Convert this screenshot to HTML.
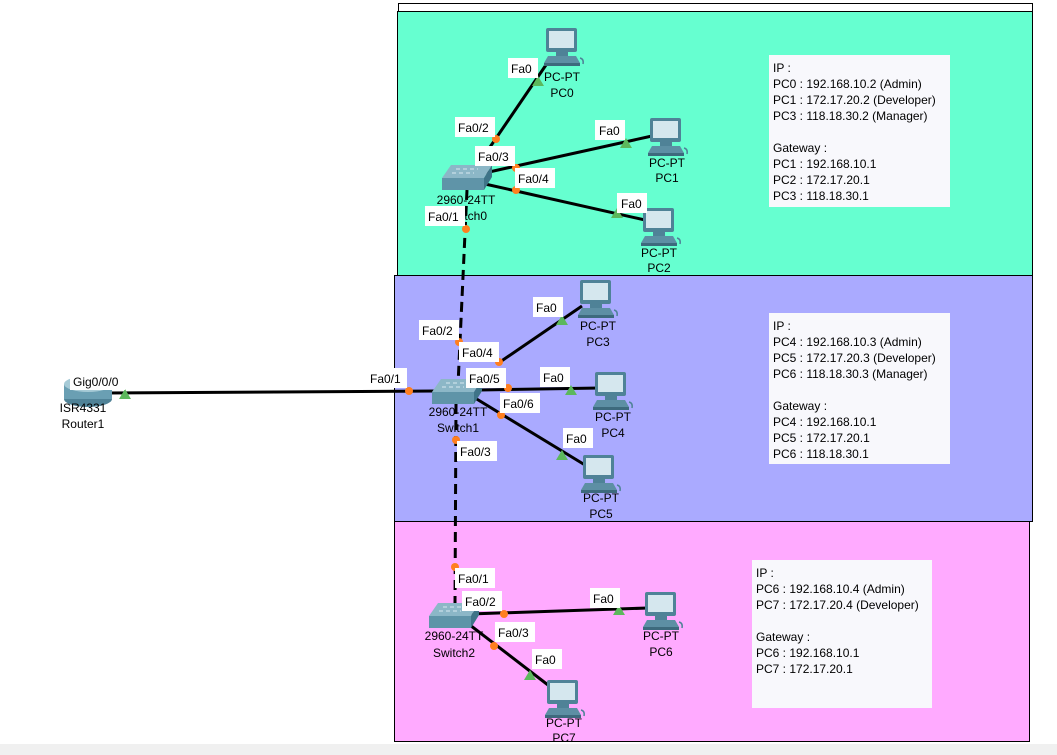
<!DOCTYPE html>
<html><head><meta charset="utf-8"><style>
html,body{margin:0;padding:0;background:#fff;}
svg{display:block;font-family:"Liberation Sans",Arial,sans-serif;}
.t{font-size:12px;fill:#000;}
.c{text-anchor:middle;}
</style></head><body>
<svg width="1057" height="755" viewBox="0 0 1057 755">
<defs>
<g id="pc">
<rect x="0" y="0" width="31" height="24" rx="2" fill="#4f8297"/>
<rect x="3" y="3" width="25" height="17" fill="#d5e7ee"/>
<rect x="10" y="24" width="12" height="4" fill="#4f8297"/>
<polygon points="2,28 30,28 34,35 -2,35" fill="#5d8fa4"/>
<rect x="-2" y="35" width="36" height="3" fill="#3d6a7d"/>
<path d="M34,30 q4,1 3,6" stroke="#4f8297" fill="none" stroke-width="1.5"/>
</g>
<g id="sw">
<polygon points="9,0 50,0 42,13 0,13" fill="#8cb7c7"/>
<rect x="0" y="13" width="42" height="12" fill="#5f94a8"/>
<polygon points="42,13 50,0 50,12 42,25" fill="#3f7488"/>
<path d="M14,4 h22 M10,8 h22" stroke="#d8eaf0" stroke-width="1" stroke-dasharray="4,3"/>
</g>
</defs>
<rect x="0" y="0" width="1057" height="755" fill="#fff"/>
<rect x="0" y="744" width="1057" height="11" fill="#f0f0f0"/>
<rect x="398.5" y="3.5" width="634" height="10" fill="#fff" stroke="#000"/>
<rect x="397.5" y="11.5" width="635" height="264" fill="#66ffd0" stroke="#000"/>
<rect x="394.5" y="275.5" width="638" height="246" fill="#aaaaff" stroke="#000"/>
<rect x="394.5" y="521.5" width="635" height="220" fill="#ffaaff" stroke="#000"/>

<rect x="769" y="55" width="181" height="152" fill="#f8f8fc"/>
<rect x="769" y="313" width="181" height="151" fill="#f8f8fc"/>
<rect x="752" y="560" width="180" height="148" fill="#f8f8fc"/>
<g class="t">
<text x="773" y="72">IP :</text>
<text x="773" y="88">PC0 : 192.168.10.2 (Admin)</text>
<text x="773" y="104">PC1 : 172.17.20.2 (Developer)</text>
<text x="773" y="120">PC3 : 118.18.30.2 (Manager)</text>
<text x="773" y="152">Gateway :</text>
<text x="773" y="168">PC1 : 192.168.10.1</text>
<text x="773" y="184">PC2 : 172.17.20.1</text>
<text x="773" y="200">PC3 : 118.18.30.1</text>
<text x="773" y="330">IP :</text>
<text x="773" y="346">PC4 : 192.168.10.3 (Admin)</text>
<text x="773" y="362">PC5 : 172.17.20.3 (Developer)</text>
<text x="773" y="378">PC6 : 118.18.30.3 (Manager)</text>
<text x="773" y="410">Gateway :</text>
<text x="773" y="426">PC4 : 192.168.10.1</text>
<text x="773" y="442">PC5 : 172.17.20.1</text>
<text x="773" y="458">PC6 : 118.18.30.1</text>
<text x="756" y="577">IP :</text>
<text x="756" y="593">PC6 : 192.168.10.4 (Admin)</text>
<text x="756" y="609">PC7 : 172.17.20.4 (Developer)</text>
<text x="756" y="641">Gateway :</text>
<text x="756" y="657">PC6 : 192.168.10.1</text>
<text x="756" y="673">PC7 : 172.17.20.1</text>
</g>

<g stroke="#000" stroke-width="3" fill="none">
<line x1="488" y1="150" x2="548" y2="62"/>
<line x1="480" y1="174" x2="652" y2="136"/>
<line x1="485" y1="184" x2="645" y2="220"/>
<line x1="105" y1="393" x2="436" y2="391"/>
<line x1="500" y1="362" x2="582" y2="306"/>
<line x1="480" y1="390" x2="600" y2="388"/>
<line x1="475" y1="398" x2="585" y2="465"/>
<line x1="470" y1="614" x2="648" y2="608"/>
<line x1="466" y1="622" x2="548" y2="685"/>
<line x1="467" y1="190" x2="458" y2="385" stroke-dasharray="10,6"/>
<line x1="456" y1="404" x2="455" y2="605" stroke-dasharray="10,6"/>
</g>

<ellipse cx="88" cy="399" rx="24" ry="8" fill="#4f8297"/>
<rect x="64" y="384" width="48" height="15" fill="#6a9fb3"/>
<ellipse cx="88" cy="384" rx="24" ry="8" fill="#a6cad6"/>

<use href="#sw" x="442" y="165"/>
<use href="#sw" x="432" y="379"/>
<use href="#sw" x="429" y="603"/>

<use href="#pc" x="546" y="28"/>
<use href="#pc" x="650" y="118"/>
<use href="#pc" x="643" y="208"/>
<use href="#pc" x="580" y="280"/>
<use href="#pc" x="595" y="372"/>
<use href="#pc" x="583" y="455"/>
<use href="#pc" x="645" y="592"/>
<use href="#pc" x="547" y="680"/>

<g class="t c">
<text x="562" y="81">PC-PT</text><text x="562" y="97">PC0</text>
<text x="667" y="167">PC-PT</text><text x="667" y="182">PC1</text>
<text x="659" y="257">PC-PT</text><text x="659" y="272">PC2</text>
<text x="598" y="330">PC-PT</text><text x="598" y="346">PC3</text>
<text x="613" y="421">PC-PT</text><text x="613" y="437">PC4</text>
<text x="601" y="502">PC-PT</text><text x="601" y="518">PC5</text>
<text x="661" y="640">PC-PT</text><text x="661" y="656">PC6</text>
<text x="564" y="727">PC-PT</text><text x="564" y="742">PC7</text>
<text x="466" y="204">2960-24TT</text><text x="466" y="220">Switch0</text>
<text x="458" y="416">2960-24TT</text><text x="458" y="432">Switch1</text>
<text x="454" y="640">2960-24TT</text><text x="454" y="657">Switch2</text>
<text x="83" y="412">ISR4331</text><text x="83" y="428">Router1</text>
</g>

<g fill="#ff7f1f">
<circle cx="496" cy="139" r="4"/><circle cx="516" cy="168" r="4"/><circle cx="516" cy="190" r="4"/>
<circle cx="466" cy="229" r="4"/><circle cx="459" cy="342" r="4"/><circle cx="499" cy="362" r="4"/>
<circle cx="409" cy="391" r="4"/><circle cx="508" cy="388" r="4"/><circle cx="501" cy="415" r="4"/>
<circle cx="456" cy="440" r="4"/><circle cx="455" cy="567" r="4"/><circle cx="504" cy="614" r="4"/>
<circle cx="494" cy="646" r="4"/>
</g>
<g fill="#5cb85c">
<polygon points="538,76 532,86 544,86"/><polygon points="626,138 620,148 632,148"/>
<polygon points="617,208 611,218 623,218"/><polygon points="562,315 556,325 568,325"/>
<polygon points="571,385 565,395 577,395"/><polygon points="562,450 556,460 568,460"/>
<polygon points="125,389 119,399 131,399"/><polygon points="619,605 613,615 625,615"/>
<polygon points="530,670 524,680 536,680"/>
</g>

<g class="t">
<rect x="508" y="58" width="30" height="20" fill="#fff"/><text x="511" y="73">Fa0</text>
<rect x="455" y="117" width="40" height="20" fill="#fff"/><text x="458" y="132">Fa0/2</text>
<rect x="475" y="146" width="40" height="20" fill="#fff"/><text x="478" y="161">Fa0/3</text>
<rect x="515" y="168" width="40" height="20" fill="#fff"/><text x="518" y="183">Fa0/4</text>
<rect x="595" y="120" width="30" height="20" fill="#fff"/><text x="599" y="135">Fa0</text>
<rect x="617" y="193" width="30" height="20" fill="#fff"/><text x="621" y="208">Fa0</text>
<rect x="425" y="206" width="40" height="20" fill="#fff"/><text x="428" y="221">Fa0/1</text>
<rect x="419" y="320" width="40" height="20" fill="#fff"/><text x="422" y="335">Fa0/2</text>
<rect x="459" y="342" width="40" height="20" fill="#fff"/><text x="462" y="357">Fa0/4</text>
<rect x="533" y="297" width="30" height="20" fill="#fff"/><text x="536" y="312">Fa0</text>
<rect x="367" y="368" width="40" height="20" fill="#fff"/><text x="370" y="383">Fa0/1</text>
<rect x="466" y="368" width="40" height="20" fill="#fff"/><text x="469" y="383">Fa0/5</text>
<rect x="540" y="367" width="30" height="20" fill="#fff"/><text x="543" y="382">Fa0</text>
<rect x="500" y="393" width="40" height="20" fill="#fff"/><text x="503" y="408">Fa0/6</text>
<rect x="563" y="428" width="30" height="20" fill="#fff"/><text x="566" y="443">Fa0</text>
<rect x="457" y="441" width="40" height="20" fill="#fff"/><text x="460" y="456">Fa0/3</text>
<rect x="455" y="568" width="40" height="20" fill="#fff"/><text x="458" y="583">Fa0/1</text>
<rect x="462" y="591" width="40" height="20" fill="#fff"/><text x="465" y="606">Fa0/2</text>
<rect x="590" y="588" width="30" height="20" fill="#fff"/><text x="593" y="603">Fa0</text>
<rect x="495" y="622" width="40" height="20" fill="#fff"/><text x="498" y="637">Fa0/3</text>
<rect x="532" y="649" width="30" height="20" fill="#fff"/><text x="535" y="664">Fa0</text>
<rect x="70" y="372" width="55" height="18" fill="#fff"/><text x="73" y="386">Gig0/0/0</text>
</g>
</svg>
</body></html>
